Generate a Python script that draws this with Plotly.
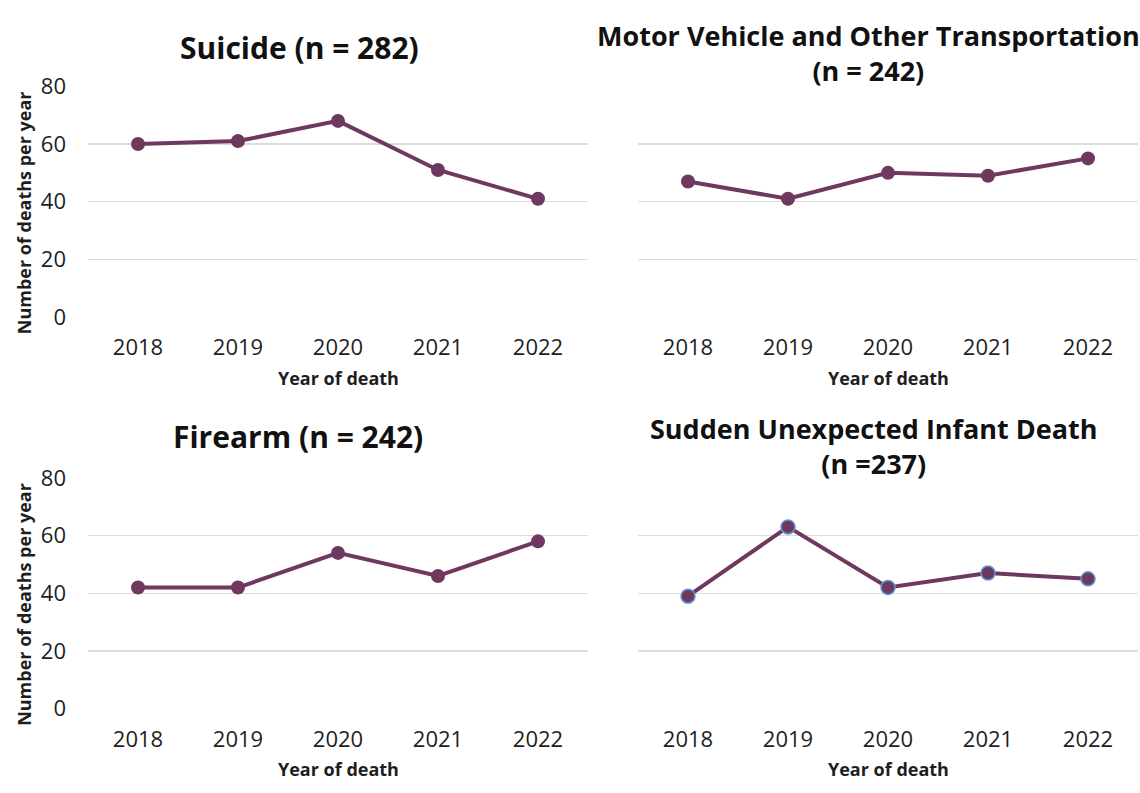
import plotly.graph_objects as go

# ---- data ----
years = ["2018", "2019", "2020", "2021", "2022"]
suicide = [60, 61, 68, 51, 41]
motor_vehicle = [47, 41, 50, 49, 55]
firearm = [42, 42, 54, 46, 58]
suid = [39, 63, 42, 47, 45]

titles = [
    "Suicide (n = 282)",
    "Motor Vehicle and Other Transportation<br>(n = 242)",
    "Firearm (n = 242)",
    "Sudden Unexpected Infant Death<br>(n =237)",
]
y_ticks = [0, 20, 40, 60, 80]
x_title = "Year of death"
y_title = "Number of deaths per year"

W, H = 1140, 793
PURPLE = "#6f385f"
GRID = "#dcdcdc"
TXT = "#1e1e1e"
FONT = "Open Sans"

def px_x(p):
    return p / W

def px_y(p):
    return 1 - p / H

# panel layout (pixel boxes)
panels = [
    dict(x0=88, x1=588, y0=73, y1=313, vals=suicide, title=titles[0], tsize=30,
         tx=299, ty=33, left=True, outline=None),
    dict(x0=638, x1=1138, y0=73, y1=313, vals=motor_vehicle, title=titles[1], tsize=27,
         tx=868, ty=38, left=False, outline=None),
    dict(x0=88, x1=588, y0=480, y1=720, vals=firearm, title=titles[2], tsize=30,
         tx=298, ty=437, left=True, outline=None),
    dict(x0=638, x1=1138, y0=480, y1=720, vals=suid, title=titles[3], tsize=27,
         tx=874, ty=447, left=False, outline="#5b9bd5"),
]

fig = go.Figure()
annotations = []
for i, p in enumerate(panels, start=1):
    sx = "" if i == 1 else str(i)
    marker = dict(size=14, color=PURPLE)
    if p["outline"]:
        marker["line"] = dict(color=p["outline"], width=1.5)
    else:
        marker["line"] = dict(width=0)
    fig.add_trace(go.Scatter(
        x=years, y=p["vals"], mode="lines+markers",
        line=dict(color=PURPLE, width=4),
        marker=marker,
        xaxis="x" + sx, yaxis="y" + sx, showlegend=False,
        cliponaxis=False,
    ))
    fig.layout["xaxis" + sx] = dict(
        domain=[px_x(p["x0"]), px_x(p["x1"])],
        anchor="y" + sx, type="category", range=[-0.5, 4.5],
        showgrid=False, zeroline=False, showline=False, ticks="",
        tickfont=dict(family=FONT, size=22, color=TXT),
        ticklabelstandoff=15, fixedrange=True,
    )
    fig.layout["yaxis" + sx] = dict(
        domain=[px_y(p["y1"]), px_y(p["y0"])],
        anchor="x" + sx, range=[0, 80], tickvals=y_ticks,
        showgrid=True, gridcolor=GRID, gridwidth=1.5,
        zeroline=False, showline=False, ticks="",
        showticklabels=p["left"],
        tickfont=dict(family=FONT, size=22, color=TXT),
        ticklabelstandoff=21, fixedrange=True,
    )
    # panel title
    annotations.append(dict(
        text="<b>" + p["title"].replace("<br>", "</b><br><b>") + "</b>",
        x=px_x(p["tx"]), y=px_y(p["ty"]), xref="paper", yref="paper",
        xanchor="center", yanchor="middle", showarrow=False,
        font=dict(family=FONT, size=p["tsize"], color="#111111"),
    ))
    # x-axis title
    annotations.append(dict(
        text="<b>" + x_title + "</b>",
        x=px_x((p["x0"] + p["x1"]) / 2), y=px_y(p["y1"] + 63),
        xref="paper", yref="paper", xanchor="center", yanchor="middle",
        showarrow=False, font=dict(family=FONT, size=18, color=TXT),
    ))
    if p["left"]:
        annotations.append(dict(
            text="<b>" + y_title + "</b>",
            x=px_x(24), y=px_y(p["y0"] + 132),
            xref="paper", yref="paper", xanchor="center", yanchor="middle",
            textangle=-90, showarrow=False,
            font=dict(family=FONT, size=18, color=TXT),
        ))

fig.update_layout(
    width=W, height=H,
    margin=dict(l=0, r=0, t=0, b=0),
    paper_bgcolor="white", plot_bgcolor="white",
    annotations=annotations,
    showlegend=False,
)

fig.write_html(
    "out.html",
    config={"displayModeBar": False, "staticPlot": True},
    post_script="document.body.style.margin='0';document.body.style.overflow='hidden';",
)
